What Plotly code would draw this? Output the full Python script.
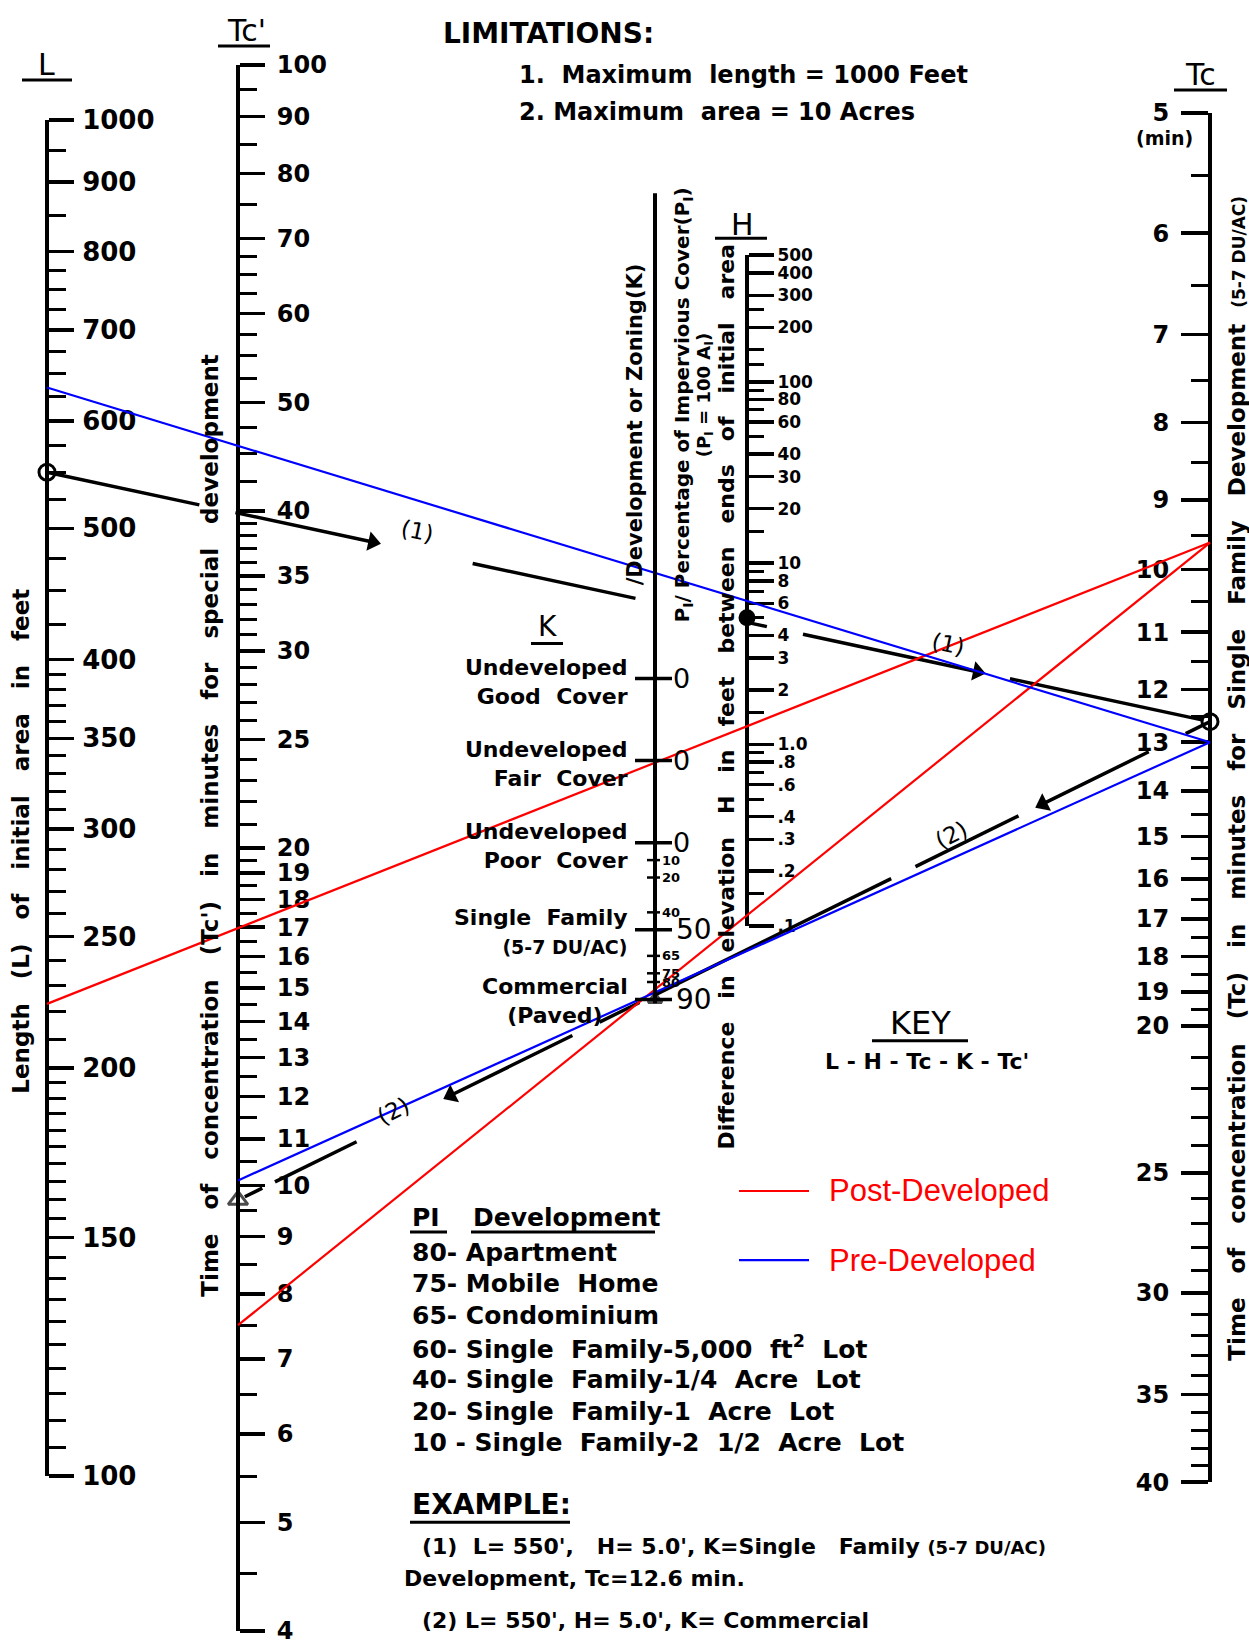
import math
import plotly.graph_objects as go

W, H = 1249, 1648
FONT = "DejaVu Sans"
SANS = "Liberation Sans"
NB = "\u00a0"

# ------------------------------------------------------------------ data
L_TICKS = [1000, 900, 800, 700, 600, 500, 400, 350, 300, 250, 200, 150, 100]
L_MINOR = [950, 850, 775, 750, 725, 675, 650, 625, 575, 550, 525, 475, 450, 425,
           390, 380, 370, 360, 340, 330, 320, 310, 290, 280, 270, 260,
           240, 230, 220, 210, 195, 190, 185, 180, 175, 170, 165, 160, 155,
           145, 140, 135, 130, 125, 120, 115, 110, 105]
TCP_TICKS = [100, 90, 80, 70, 60, 50, 40, 35, 30, 25, 20, 19, 18, 17, 16, 15,
             14, 13, 12, 11, 10, 9, 8, 7, 6, 5, 4]
TCP_MINOR = [95, 85, 75, 67.5, 65, 62.5, 57.5, 55, 52.5, 47.5, 45, 42.5,
             39, 38, 37, 36, 34, 33, 32, 31, 29, 28, 27, 26, 24, 23, 22, 21,
             19.5, 18.5, 17.5, 16.5, 15.5, 14.5, 13.5, 12.5, 11.5, 10.5,
             9.5, 8.5, 7.5, 6.5, 5.5, 4.5]
TC_TICKS = [5, 6, 7, 8, 9, 10, 11, 12, 13, 14, 15, 16, 17, 18, 19, 20, 25, 30, 35, 40]
TC_MINOR = [5.5, 6.5, 7.5, 8.5, 9.5, 10.5, 11.5, 12.5, 13.5, 14.5, 15.5, 16.5,
            17.5, 18.5, 19.5, 21, 22, 23, 24, 26, 27, 28, 29, 31, 32, 33, 34,
            36, 37, 38, 39]
H_TICKS = [500, 400, 300, 200, 100, 80, 60, 40, 30, 20, 10, 8, 6, 4, 3, 2,
           1.0, 0.8, 0.6, 0.4, 0.3, 0.2, 0.1]
H_TICKTEXT = ["500", "400", "300", "200", "100", "80", "60", "40", "30", "20",
              "10", "8", "6", "4", "3", "2", "1.0", ".8", ".6", ".4", ".3", ".2", ".1"]
H_MINOR = [250, 150, 125, 90, 70, 50, 15, 9, 7, 5, 1.5, 0.9, 0.7, 0.5, 0.15]

K_CLASSES = ["Undeveloped<br>Good" + NB * 2 + "Cover",
             "Undeveloped<br>Fair" + NB * 2 + "Cover",
             "Undeveloped<br>Poor" + NB * 2 + "Cover"]
PI_CLASS_VALUES = [50, 90]
PI_CLASS_NAMES = ["Single" + NB * 2 + "Family", "Commercial"]
PI_CLASS_NOTES = ["<span style='font-size:19px'>(5-7 DU/AC)</span>", "(Paved)"]
PI_SMALL = [10, 20, 40, 65, 75, 80]

DEV_PI = [80, 75, 65, 60, 40, 20, 10]
DEV_NAMES = ["Apartment", "Mobile Home", "Condominium",
             "Single Family-5,000 ft<sup>2</sup> Lot",
             "Single Family-1/4 Acre Lot",
             "Single Family-1 Acre Lot",
             "Single Family-2 1/2 Acre Lot"]

# readings drawn on the chart
POST = dict(L=223, Tc=9.6, Tcp=7.5)      # Post-Developed (red)
PRE = dict(L=635, Tc=13.0, Tcp=10.1)     # Pre-Developed (blue)
EXAMPLE = dict(L=550, H=5.0, Tc=12.6, Tcp=9.7, Pi=90)

# ------------------------------------------------------------------ layout geometry
VS, VO = 1.0194, -15.3      # vertical layout stretch / offset


def Y(t):
    return VS * t + VO


GEO_L = dict(x=47, vt=1000, yt=Y(120), vb=100, yb=Y(1475))
GEO_TCP = dict(x=238, vt=100, yt=Y(65), vb=4, yb=1646)
GEO_H = dict(x=747, vt=500, yt=Y(255), vb=0.1, yb=Y(925))
GEO_TC = dict(x=1210, vt=5, yt=Y(113), vb=40, yb=Y(1481))
K_X, K_TOP, PI0_Y, PI_PX, K_STEP = 655, Y(193), Y(842), 1.74 * VS, 82 * VS


def ymap(g, v):
    lt, lb = math.log10(g["vt"]), math.log10(g["vb"])
    return g["yt"] + (g["yb"] - g["yt"]) * (math.log10(v) - lt) / (lb - lt)


def pt(g, v):
    return (g["x"], ymap(g, v))


def y_pi(p):
    return PI0_Y + PI_PX * p


def y_kclass(i):
    return PI0_Y - (len(K_CLASSES) - 1 - i) * K_STEP


def log_axis(g, side, ticks, text, minor, size, ticklen, minorlen, standoff):
    return dict(
        type="log",
        domain=[(H - g["yb"]) / H, (H - g["yt"]) / H],
        range=[math.log10(g["vb"]), math.log10(g["vt"])],
        anchor="free", position=g["x"] / W, side=side,
        showline=True, linewidth=4, linecolor="black",
        ticks="outside", ticklen=ticklen, tickwidth=3.5, tickcolor="black",
        tickmode="array", tickvals=ticks, ticktext=text,
        tickfont=dict(family=FONT, size=size, color="black", weight="bold"),
        minor=dict(tickmode="array", tickvals=minor, ticks="outside",
                   ticklen=minorlen, tickwidth=3, tickcolor="black", showgrid=False),
        showgrid=False, zeroline=False, fixedrange=True,
        ticklabelstandoff=standoff, ticklabeloverflow="allow",
    )


fig = go.Figure()

# invisible traces so every scale axis is instantiated
for ax_name, g, vals in [("y", GEO_L, L_TICKS), ("y2", GEO_TCP, TCP_TICKS),
                         ("y3", GEO_H, H_TICKS), ("y4", GEO_TC, TC_TICKS)]:
    fig.add_trace(go.Scatter(x=[g["x"]] * len(vals), y=vals, yaxis=ax_name, mode="markers",
                             marker=dict(size=1, opacity=0), hoverinfo="skip", showlegend=False))


def seg_line(p0, p1, color, width, pieces=None):
    xs, ys = [], []
    for a, b in (pieces or [(0.0, 1.0)]):
        xs += [p0[0] + (p1[0] - p0[0]) * a, p0[0] + (p1[0] - p0[0]) * b, None]
        ys += [p0[1] + (p1[1] - p0[1]) * a, p0[1] + (p1[1] - p0[1]) * b, None]
    fig.add_trace(go.Scatter(x=xs, y=ys, yaxis="y5", mode="lines",
                             line=dict(color=color, width=width), hoverinfo="skip",
                             showlegend=False))


def along(p0, p1, t):
    return (p0[0] + (p1[0] - p0[0]) * t, p0[1] + (p1[1] - p0[1]) * t)


# example lines (1) and (2) drawn in black with gaps
ex_L = pt(GEO_L, EXAMPLE["L"])
ex_Tc = pt(GEO_TC, EXAMPLE["Tc"])
ex_H = pt(GEO_H, EXAMPLE["H"])
ex_Tcp = pt(GEO_TCP, EXAMPLE["Tcp"])
ex_K = (K_X, y_pi(EXAMPLE["Pi"]))
PIECES_1 = [(0.0, 0.131), (0.162, 0.28), (0.366, 0.506), (0.601, 0.619), (0.650, 0.80), (0.828, 0.993)]
PIECES_2 = [(0.0, 0.025), (0.063, 0.172), (0.197, 0.303), (0.328, 0.571), (0.587, 0.628),
            (0.656, 0.782), (0.878, 0.962), (0.975, 0.993)]
seg_line(ex_L, ex_Tc, "black", 3.5, PIECES_1)
seg_line(ex_Tc, ex_Tcp, "black", 3.5, PIECES_2)

# arrow heads along the example lines
ahx, ahy, aha = [], [], []
for p0, p1, t in [(ex_L, ex_Tc, 0.29), (ex_L, ex_Tc, 0.81), (ex_Tc, ex_Tcp, 0.182), (ex_Tc, ex_Tcp, 0.791)]:
    hx, hy = along(p0, p1, t - 0.01)
    ahx.append(hx)
    ahy.append(hy)
    aha.append(math.degrees(math.atan2(p1[1] - p0[1], p1[0] - p0[0])))
fig.add_trace(go.Scatter(x=ahx, y=ahy, yaxis="y5", mode="markers",
                         marker=dict(symbol="triangle-right", size=17, color="black", angle=aha),
                         hoverinfo="skip", showlegend=False))

# red / blue reading lines
for d, col in [(POST, "#ff0000"), (PRE, "#0000ff")]:
    seg_line(pt(GEO_L, d["L"]), pt(GEO_TC, d["Tc"]), col, 2.2)
    seg_line(pt(GEO_TC, d["Tc"]), pt(GEO_TCP, d["Tcp"]), col, 2.2)

# markers of the example
fig.add_trace(go.Scatter(x=[ex_L[0], ex_Tc[0]], y=[ex_L[1], ex_Tc[1]], yaxis="y5", mode="markers",
                         marker=dict(symbol="circle-open", size=16, color="black", line=dict(width=3)),
                         hoverinfo="skip", showlegend=False))
fig.add_trace(go.Scatter(x=[ex_H[0]], y=[ex_H[1]], yaxis="y5", mode="markers",
                         marker=dict(symbol="circle", size=17, color="black"),
                         hoverinfo="skip", showlegend=False))
fig.add_trace(go.Scatter(x=[ex_Tcp[0], ex_K[0]], y=[ex_Tcp[1], ex_K[1]], yaxis="y5", mode="markers",
                         marker=dict(symbol="triangle-up-open", size=[17, 12], color="black", line=dict(width=3)),
                         hoverinfo="skip", showlegend=False))

# ------------------------------------------------------------------ shapes
shapes = []


def hline(x0, x1, y, w=3.0, color="black", raw=False):
    yy = y if raw else Y(y)
    shapes.append(dict(type="line", xref="x", yref="y5", x0=x0, x1=x1, y0=yy, y1=yy,
                       line=dict(color=color, width=w), layer="above"))


# K / Pi scale
shapes.append(dict(type="line", xref="x", yref="y5", x0=K_X, x1=K_X, y0=K_TOP,
                   y1=y_pi(max(PI_CLASS_VALUES)) + 4, line=dict(color="black", width=4)))
for i in range(len(K_CLASSES)):
    hline(K_X - 20, K_X + 17, y_kclass(i), 3.5, raw=True)
for v in PI_CLASS_VALUES:
    hline(K_X - 20, K_X + 17, y_pi(v), 3.5, raw=True)
for v in PI_SMALL:
    hline(K_X - 8, K_X + 5, y_pi(v), 2.5, raw=True)

# title underlines
hline(22, 72, 80)        # L
hline(218, 270, 46)      # Tc'
hline(1174, 1227, 90)    # Tc
hline(715, 767, 238)     # H
hline(531, 563, 643)     # K
hline(872, 968, 1040)    # KEY
hline(410, 447, 1231)    # PI
hline(471, 655, 1231)    # Development
hline(410, 570, 1521)    # EXAMPLE
# legend samples
hline(739, 809, 1190, 2.2, "#ff0000")
hline(739, 809, 1259, 2.2, "#0000ff")

annotations = []


# ------------------------------------------------------------------ text
def txt(x, y, s, size=22, bold=True, xa="center", ya="middle", angle=0, color="black",
        family=FONT, align="center", raw=False):
    annotations.append(dict(x=x, y=(y if raw else Y(y)), xref="x", yref="y5", text=s,
                            showarrow=False, xanchor=xa, yanchor=ya, textangle=angle,
                            align=align,
                            font=dict(family=family, size=size, color=color,
                                      weight="bold" if bold else "normal")))


def spaced(s, n):
    return (NB * n).join(s.split(" "))


txt(46, 64, "L", 30, bold=False)
txt(246, 30, "Tc'", 30, bold=False)
txt(1200, 74, "Tc", 30, bold=False)
txt(742, 224, "H", 30, bold=False)
txt(547, 626, "K", 28, bold=False)
txt(1164, 138, "(min)", 19)

txt(441, 33, "LIMITATIONS:", 28, xa="left")
txt(517, 75, "1." + NB + " Maximum" + NB * 2 + "length" + NB + "=" + NB + "1000" + NB + "Feet", 24, xa="left")
txt(517, 112, "2. Maximum" + NB * 2 + "area" + NB + "=" + NB + "10" + NB + "Acres", 24, xa="left")

# rotated scale titles
txt(21, 841, spaced("Length (L) of initial area in feet", 3), 23, angle=-90)
txt(210, 825, spaced("Time of concentration (Tc') in minutes for special development", 3), 23, angle=-90)
txt(1237, 778, spaced("Time of concentration (Tc) in minutes for Single Family Development", 3)
    + NB * 2 + "<span style='font-size:17px'>(5-7 DU/AC)</span>", 23, angle=-90)
txt(727, 696, spaced("Difference in elevation H in feet between ends of initial area", 3), 22, angle=-90)
txt(635, 424, "/Development or Zoning(K)", 21, angle=-90)
txt(683, 405, "P<sub>I</sub>/ Percentage of Impervious Cover(P<sub>I</sub>)", 20, angle=-90)
txt(705, 395, "(P<sub>I</sub> = 100 A<sub>I</sub>)", 18, angle=-90)

# K / Pi labels
for i, name in enumerate(K_CLASSES):
    y = y_kclass(i)
    txt(630, y + 3, name, 22, xa="right", align="right", raw=True)
    txt(681, y, "0", 27, bold=False, raw=True)
for v, name, note, al in zip(PI_CLASS_VALUES, PI_CLASS_NAMES, PI_CLASS_NOTES, ["right", "center"]):
    y = y_pi(v)
    txt(630, y + 2, name + "<br>" + note, 22, xa="right", align=al, raw=True)
    txt(674, y, str(v), 28, bold=False, xa="left", raw=True)
for v in PI_SMALL:
    txt(660, y_pi(v), str(v), 13, xa="left", raw=True)

# example labels along the lines
txt(417, 531, "(1)", 23, bold=False, angle=12)
txt(948, 643, "(1)", 23, bold=False, angle=12)
txt(951, 834, "(2)", 23, bold=False, angle=-27)
txt(393, 1110, "(2)", 23, bold=False, angle=-27)

# key
txt(920, 1022, "KEY", 32, bold=False)
txt(927, 1061, "L - H - Tc - K - Tc'", 22)

# legend
txt(827, 1190, "Post-Developed", 31, bold=False, xa="left", color="#ff0000", family=SANS)
txt(827, 1259, "Pre-Developed", 31, bold=False, xa="left", color="#ff0000", family=SANS)

# development table
txt(410, 1216, "PI", 25, xa="left")
txt(471, 1216, "Development", 25, xa="left")
for i, (p, name) in enumerate(zip(DEV_PI, DEV_NAMES)):
    sep = "-" if p != 10 else NB + "-"
    txt(410, 1251 + i * 31.8, f"{p}{sep}" + NB + spaced(name, 2), 25, xa="left")

# example text
txt(410, 1503, "EXAMPLE:", 28, xa="left")
txt(420, 1545, "(1)" + NB * 2 + "L=" + NB + "550'," + NB * 3 + "H=" + NB + "5.0',"
    + NB + "K=Single" + NB * 3 + "Family" + NB + "<span style='font-size:18px'>(5-7 DU/AC)</span>", 22, xa="left")
txt(402, 1577, "Development," + NB + "Tc=12.6" + NB + "min.", 22, xa="left")
txt(420, 1619, "(2)" + NB + "L=" + NB + "550'," + NB + "H=" + NB + "5.0',"
    + NB + "K=" + NB + "Commercial", 22, xa="left")
txt(402, 1650, "Development," + NB + "Tc'=9.7" + NB + "min.", 22, xa="left", raw=True)

# ------------------------------------------------------------------ layout
fig.update_layout(
    width=W, height=H, autosize=False,
    margin=dict(l=0, r=0, t=0, b=0, pad=0),
    paper_bgcolor="white", plot_bgcolor="rgba(0,0,0,0)",
    showlegend=False,
    xaxis=dict(range=[0, W], domain=[0, 1], visible=False, fixedrange=True),
    yaxis=log_axis(GEO_L, "right", L_TICKS, [str(v) for v in L_TICKS], L_MINOR, 26, 25, 17, 3),
    yaxis2=log_axis(GEO_TCP, "right", TCP_TICKS, [str(v) for v in TCP_TICKS], TCP_MINOR, 24, 25, 17, 7),
    yaxis3=log_axis(GEO_H, "right", H_TICKS, H_TICKTEXT, H_MINOR, 17, 25, 15, 0),
    yaxis4=log_axis(GEO_TC, "left", TC_TICKS, [str(v) for v in TC_TICKS], TC_MINOR, 24, 27, 17, 7),
    yaxis5=dict(range=[H, 0], domain=[0, 1], anchor="x", visible=False, fixedrange=True),
    shapes=shapes,
    annotations=annotations,
)

POST_JS = (
    "document.documentElement.style.margin='0';document.documentElement.style.padding='0';"
    "document.documentElement.style.overflow='hidden';"
    "document.body.style.margin='0';document.body.style.padding='0';document.body.style.overflow='hidden';"
    "var gd=document.getElementById('{plot_id}');gd.style.position='absolute';"
    "gd.style.left='0px';gd.style.top='0px';"
)
fig.write_html("out.html", config={"displayModeBar": False, "staticPlot": True}, post_script=POST_JS)
